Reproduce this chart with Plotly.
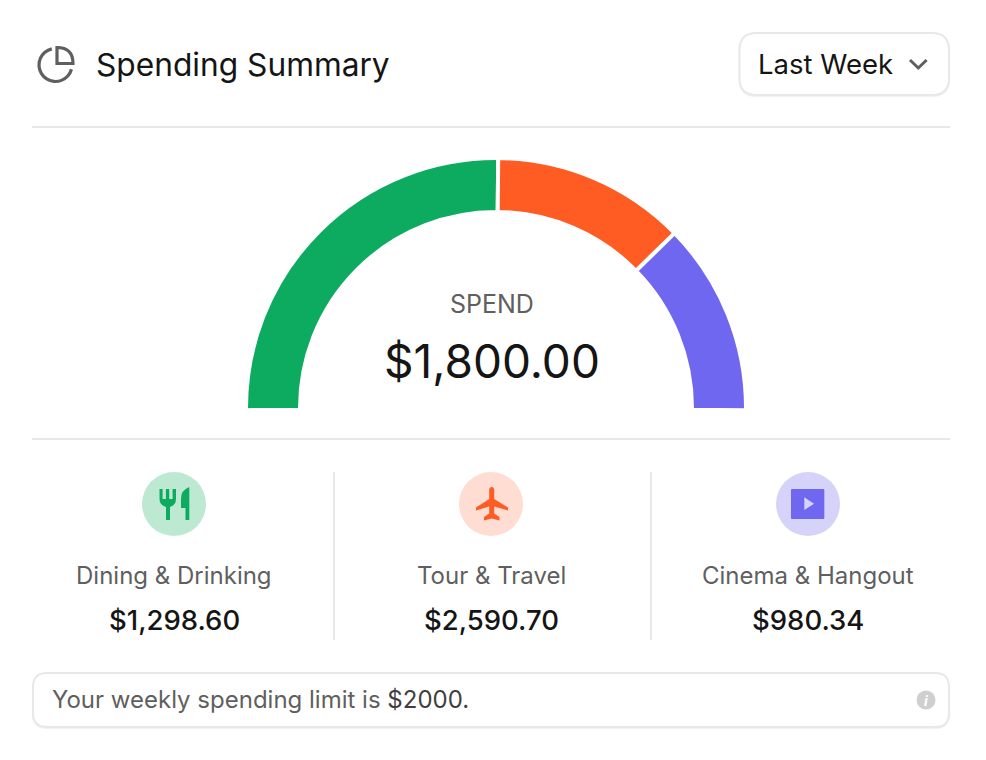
# Spending summary card: half donut gauge with three category columns
import math
import plotly.graph_objects as go

categories = ["Dining & Drinking", "Tour & Travel", "Cinema & Hangout"]
amounts = ["$1,298.60", "$2,590.70", "$980.34"]
gauge_shares = [910, 451, 449]
hidden_share = [1790]
colors = ["#0dab60", "#ff5c24", "#7067f0"]
tints = ["#bde9d3", "#ffddd2", "#d6d3fb"]

W, H = 986, 760
FONT = "Inter"
DARK = "#151515"
GREY = "#5f5f5f"
RULE = "#e8e8e8"

# gauge centre and radius, in page pixels
CX, CY, R = 496, 408, 250

fig = go.Figure()

# invisible trace, keeps the pixel axes alive for the shapes
fig.add_trace(go.Scatter(x=[0, W], y=[0, H], mode="markers", marker=dict(opacity=0),
                         hoverinfo="skip", showlegend=False))

fig.add_trace(go.Pie(values=gauge_shares + hidden_share,
                     labels=categories + ["rest"],
                     sort=False, direction="clockwise", rotation=269.5,
                     hole=0.784, textinfo="none", hoverinfo="skip", showlegend=False,
                     marker=dict(colors=colors + ["rgba(0,0,0,0)"],
                                 line=dict(color="white", width=[4, 4, 4, 0])),
                     domain=dict(x=[(CX - R) / W, (CX + R) / W],
                                 y=[(H - CY - R) / H, (H - CY + R) / H])))


def rounded_box(x0, y0, x1, y1, r):
    return (f"M{x0 + r} {y0} H{x1 - r} Q{x1} {y0} {x1} {y0 + r} V{y1 - r} Q{x1} {y1} {x1 - r} {y1} "
            f"H{x0 + r} Q{x0} {y1} {x0} {y1 - r} V{y0 + r} Q{x0} {y0} {x0 + r} {y0} Z")


def arc(cx, cy, r, a0, a1, step=30):
    # plotly shape paths have no A command, so walk the arc with Q segments (degrees, screen coords)
    n = max(1, math.ceil(abs(a1 - a0) / step))
    da = math.radians(a1 - a0) / n
    a = math.radians(a0)
    path = f"M{cx + r * math.cos(a):.2f} {cy + r * math.sin(a):.2f}"
    for _ in range(n):
        mid = a + da / 2
        rc = r / math.cos(da / 2)
        a += da
        path += (f" Q{cx + rc * math.cos(mid):.2f} {cy + rc * math.sin(mid):.2f}"
                 f" {cx + r * math.cos(a):.2f} {cy + r * math.sin(a):.2f}")
    return path


def add_path(path, fill=None, line=None, width=0):
    fig.add_shape(type="path", path=path, xref="x", yref="y", layer="below",
                  fillcolor=fill or "rgba(0,0,0,0)",
                  line=dict(color=line or "rgba(0,0,0,0)", width=width))


def add_rule(x0, y0, x1, y1):
    fig.add_shape(type="line", x0=x0, y0=y0, x1=x1, y1=y1, xref="x", yref="y",
                  layer="below", line=dict(color=RULE, width=2))


def add_text(x, y, text, size, color=DARK, anchor="center", weight=400):
    fig.add_annotation(x=x, y=y, xref="x", yref="y", text=text, showarrow=False,
                       xanchor=anchor, yanchor="middle",
                       font=dict(family=FONT, size=size, color=color, weight=weight))


# header
add_path(arc(55.5, 65, 16.5, -103, -345), line=GREY, width=3.2)
add_path("M57 47.5 Q73 47.5 73 63.5 H57 Z", line=GREY, width=3.2)
add_text(94, 64, "Spending Summary", 31.7, anchor="left")

add_path(rounded_box(739.5, 34, 949, 96, 17), line="#f1f1f1", width=2)
add_path(rounded_box(739.5, 33, 949, 95, 17), fill="white", line=RULE, width=2)
add_text(756, 64, "Last Week", 27.5, anchor="left")
add_path("M910 60 L918.3 68 L926.6 60", line=GREY, width=3)

add_rule(32, 127, 950, 127)
add_rule(32, 439, 950, 439)

# centre of the gauge
add_text(492, 304, "SPEND", 25, color=GREY)
add_text(492, 361, "$1,800.00", 46)

# category columns
centres = [174, 491, 808]
for cx, name, amount, tint in zip(centres, categories, amounts, tints):
    fig.add_shape(type="circle", x0=cx - 32, y0=472, x1=cx + 32, y1=536, xref="x", yref="y",
                  layer="below", fillcolor=tint, line=dict(width=0))
    add_text(cx, 575.5, name, 24, color=GREY)
    add_text(cx, 620, amount, 27.5, weight=500)

add_rule(334, 472, 334, 640)
add_rule(651, 472, 651, 640)

# fork and knife
add_path("M159.5 489 H162.6 V499 H165.9 V489 H169.2 V499 H172.6 V489 H176 V499 "
         "Q176 505 170 507 V520 H166 V507 Q159.5 505 159.5 499 Z", fill=colors[0])
add_path("M189.3 487 V520 H185.5 V508 H181 V499 Q181 490 189.3 487 Z", fill=colors[0])

# plane
add_path("M491.7 487 C493.7 487 494.2 489 494.2 490 V499 L508 507.5 V510.5 L494.2 506.5 V513.5 "
         "L499.5 517 V520.5 L491.7 518.5 L484 520.5 V517 L489.2 513.5 V506.5 L476 510.5 V507.5 "
         "L489.2 499 V490 C489.2 489 489.7 487 491.7 487 Z", fill=colors[1])

# play box
add_path(rounded_box(791, 489, 824.3, 519, 1), fill=colors[2])
add_path("M804.3 497.3 L814 503.7 L804.3 510 Z", fill=tints[2])

# limit note
add_path(rounded_box(33, 674, 949, 728, 14), line="#f1f1f1", width=2)
add_path(rounded_box(33, 673, 949, 727, 14), fill="white", line=RULE, width=2)
add_text(50, 699.5, f"Your weekly spending limit is <span style='color:#3f3f3f'>$2000.</span>", 24,
         color=GREY, anchor="left")
fig.add_shape(type="circle", x0=916.5, y0=690.5, x1=935.5, y1=709.5, xref="x", yref="y",
              layer="below", fillcolor="#cfcfcf", line=dict(width=0))
add_text(926, 700, "<b><i>i</i></b>", 14, color="white")

fig.update_layout(width=W, height=H, margin=dict(l=0, r=0, t=0, b=0),
                  paper_bgcolor="white", plot_bgcolor="white", showlegend=False,
                  xaxis=dict(range=[0, W], visible=False, fixedrange=True),
                  yaxis=dict(range=[H, 0], visible=False, fixedrange=True))

fig.write_html("out.html", config=dict(displayModeBar=False),
               post_script="document.body.style.margin='0';")
